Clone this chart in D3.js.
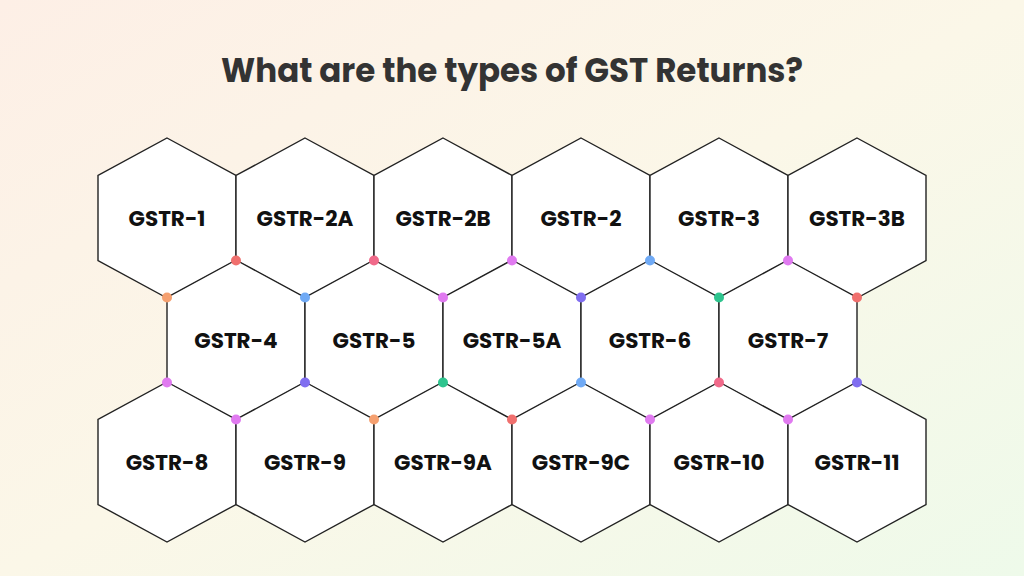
<!DOCTYPE html>
<html><head><meta charset="utf-8">
<script src="https://cdn.jsdelivr.net/npm/d3@7"></script>
<style>body{margin:0;width:1024px;height:576px;overflow:hidden}</style>
</head><body><svg id="c" width="1024" height="576"></svg>
<script>
// hex labels per row
const row1 = ["GSTR-1", "GSTR-2A", "GSTR-2B", "GSTR-2", "GSTR-3", "GSTR-3B"];
const row2 = ["GSTR-4", "GSTR-5", "GSTR-5A", "GSTR-6", "GSTR-7"];
const row3 = ["GSTR-8", "GSTR-9", "GSTR-9A", "GSTR-9C", "GSTR-10", "GSTR-11"];
const rows = [row1, row2, row3];

// vertex dot colours at each shoulder level
const dotLevels = ["r1low", "r2up", "r2low", "r3up"];
const dotColors = {
  r1low: ["red", "pink", "magenta", "blue", "magenta"],
  r2up: ["orange", "blue", "magenta", "purple", "green", "red"],
  r2low: ["magenta", "purple", "green", "blue", "pink", "purple"],
  r3up: ["magenta", "orange", "red", "magenta", "magenta"]
};
const palette = {red:"#f0706e", pink:"#f06a8a", magenta:"#e07af0", blue:"#70aaf5",
  purple:"#806ef0", green:"#2ec48e", orange:"#f5a070"};

const svg = d3.select("#c");
const defs = svg.append("defs");
const g = defs.append("linearGradient").attr("id","bg").attr("x1","0").attr("y1","0").attr("x2","1").attr("y2","1");
g.append("stop").attr("offset","0").attr("stop-color","#fdefe6");
g.append("stop").attr("offset","0.5").attr("stop-color","#fbf7e8");
g.append("stop").attr("offset","1").attr("stop-color","#eefaea");
svg.append("rect").attr("width",1024).attr("height",576).attr("fill","url(#bg)");

svg.append("text").attr("x",512).attr("y",82).attr("text-anchor","middle")
  .attr("font-family","Poppins, Inter, sans-serif").attr("font-weight",700)
  .attr("font-size",32.5).attr("fill","#333").text("What are the types of GST Returns?");

const hw = 69, hh = 80, sh = 42.5;
const x = d3.scaleLinear().domain([0, 1]).range([167, 305]); // column units
const y = d3.scaleLinear().domain([0, 1]).range([218, 340]); // row units

const hexPts = (cx, cy) => [[cx,cy-hh],[cx+hw,cy-sh],[cx+hw,cy+sh],[cx,cy+hh],[cx-hw,cy+sh],[cx-hw,cy-sh]];
const cells = rows.flatMap((r, ri) => r.map((lab, i) => ({lab, cx: x(i + (ri === 1 ? 0.5 : 0)), cy: y(ri)})));

const hex = svg.append("g").selectAll("g").data(cells).join("g");
hex.append("polygon").attr("points", d => hexPts(d.cx, d.cy).join(" "))
  .attr("fill","#fff").attr("stroke","#222").attr("stroke-width",1.4);
hex.append("text").attr("x", d => d.cx).attr("y", d => d.cy + 8).attr("text-anchor","middle")
  .attr("font-family","Poppins, Inter, sans-serif").attr("font-weight",700).attr("font-size",21.5)
  .attr("fill","#111").text(d => d.lab);

const levelY = {r1low: y(0)+sh, r2up: y(1)-sh, r2low: y(1)+sh, r3up: y(2)-sh};
const levelOff = {r1low: 0.5, r2up: 0, r2low: 0, r3up: 0.5};
const dots = dotLevels.flatMap(l => dotColors[l].map((c, i) => ({cx: x(i + levelOff[l]), cy: levelY[l], c})));
svg.append("g").selectAll("circle").data(dots).join("circle")
  .attr("cx", d => d.cx).attr("cy", d => d.cy).attr("r", 5).attr("fill", d => palette[d.c]);
</script></body></html>
